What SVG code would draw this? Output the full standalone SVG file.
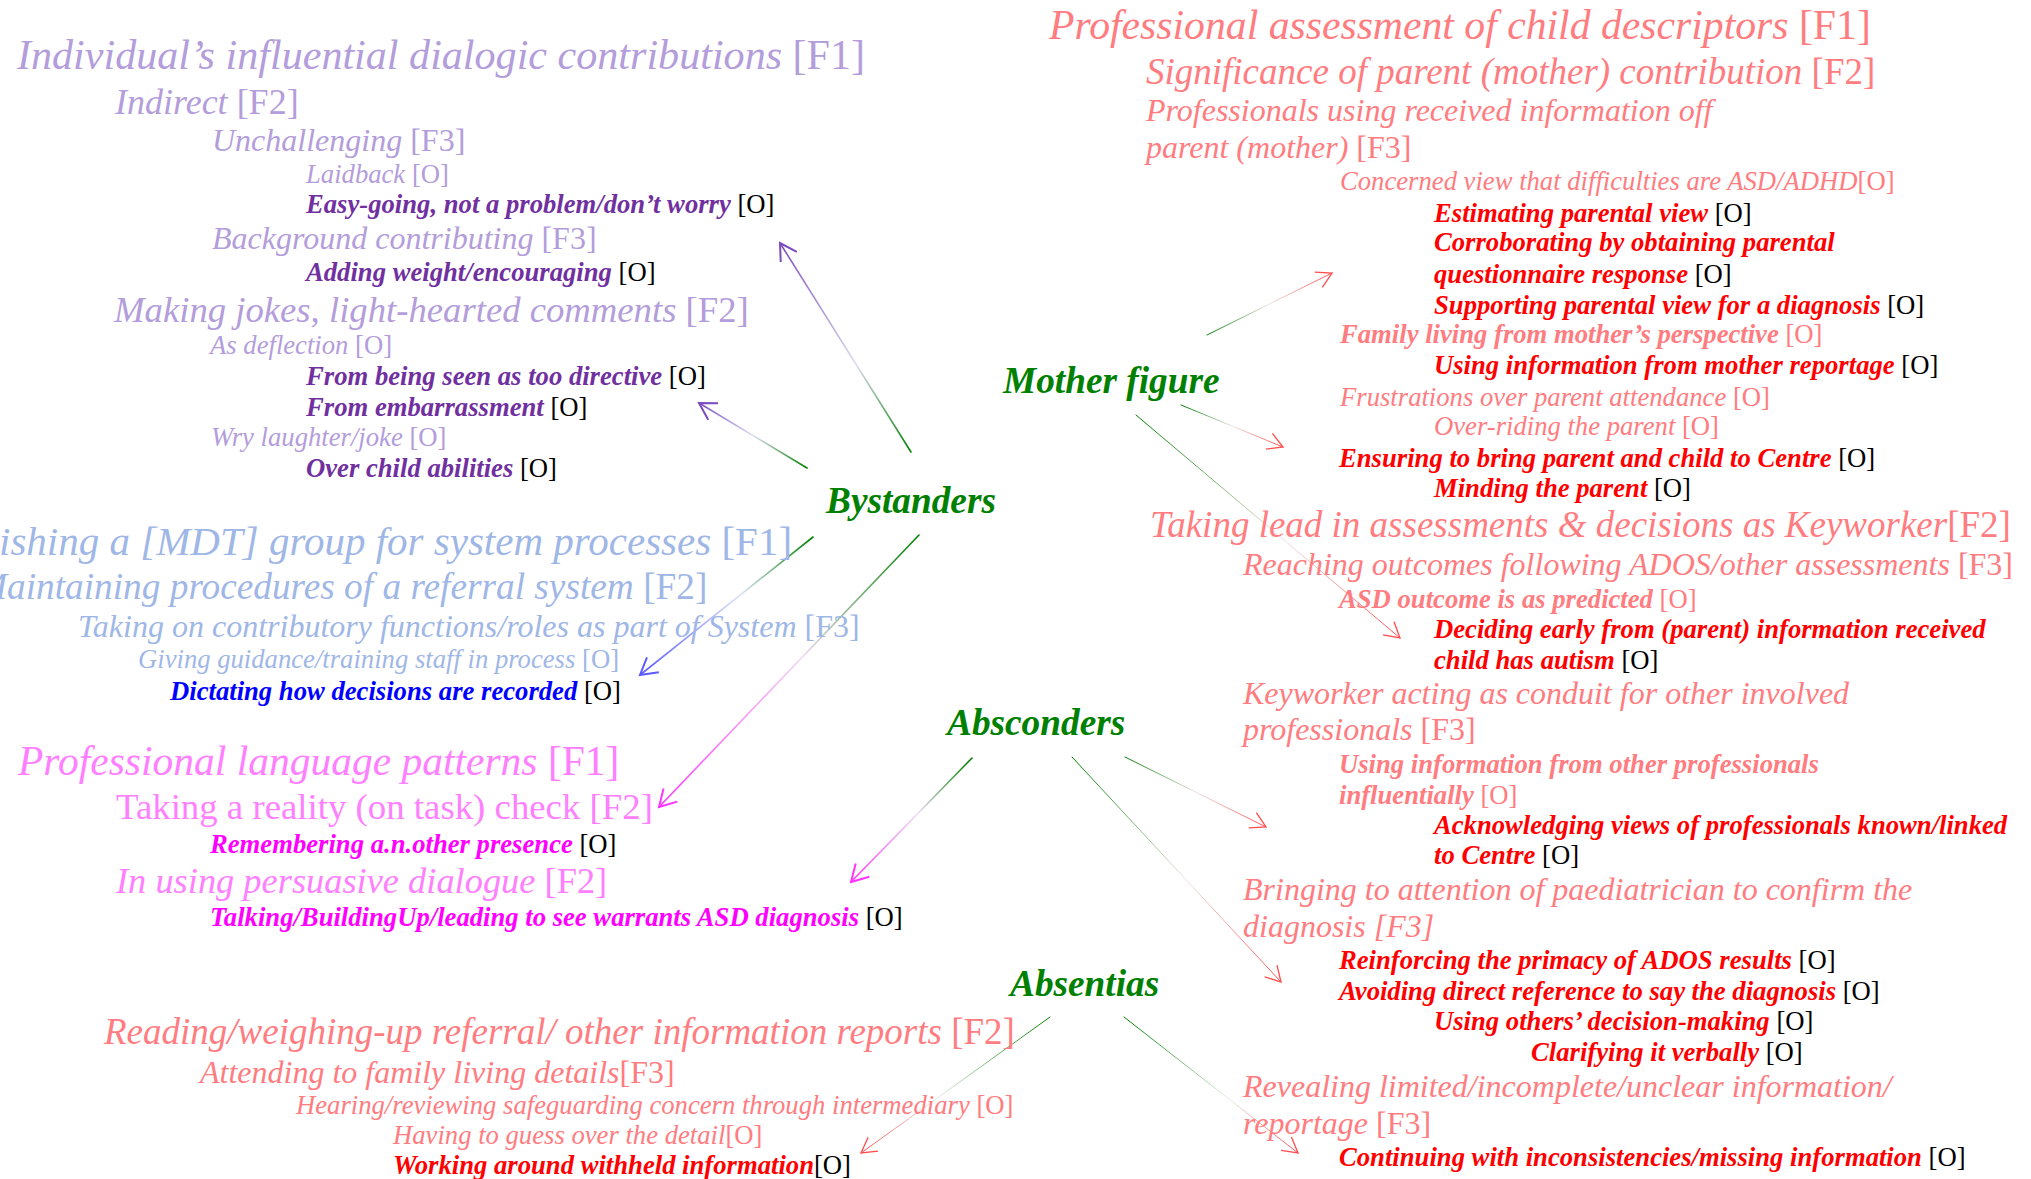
<svg xmlns="http://www.w3.org/2000/svg" width="2031" height="1179" viewBox="0 0 2031 1179">
<style>
text { font-family: "Liberation Serif", "Times New Roman", serif; font-style: italic; }
.f1 { font-size: 41.5px; }
.f2 { font-size: 37px; }
.f3 { font-size: 32px; }
.o { font-size: 26.67px; }
.b { font-weight: bold; }
.rm { font-style: normal; font-weight: normal; }
.k { fill: #000000; font-style: normal; font-weight: normal; }
.up { font-style: normal; }
.cat { font-size: 37.3px; font-weight: bold; fill: #008000; }
.pl { fill: #b39ddb; } .pd { fill: #7030a0; }
.bl { fill: #9fb7e6; } .bd { fill: #0000ff; }
.kl { fill: #ff80ff; } .kd { fill: #ff00ff; }
.sl { fill: #ff7c80; } .rd { fill: #ff0000; }
.c { fill: none; stroke-linecap: round; }
.thick { stroke-width: 1.6; }
.thin { stroke-width: 1; }
</style>
<defs>
<marker id="ah-purple" markerUnits="userSpaceOnUse" viewBox="-20 -20 40 40" markerWidth="40" markerHeight="40" refX="0" refY="0" orient="auto" overflow="visible"><path d="M-16.5,-9.5 L0,0 L-16.5,9.5" fill="none" stroke="#7b4bbd" stroke-width="2"/></marker>
<marker id="ah-blue" markerUnits="userSpaceOnUse" viewBox="-20 -20 40 40" markerWidth="40" markerHeight="40" refX="0" refY="0" orient="auto" overflow="visible"><path d="M-16.5,-9.5 L0,0 L-16.5,9.5" fill="none" stroke="#5a5aff" stroke-width="2"/></marker>
<marker id="ah-magenta" markerUnits="userSpaceOnUse" viewBox="-20 -20 40 40" markerWidth="40" markerHeight="40" refX="0" refY="0" orient="auto" overflow="visible"><path d="M-16.5,-9.5 L0,0 L-16.5,9.5" fill="none" stroke="#ff33ff" stroke-width="2"/></marker>
<marker id="ah-red" markerUnits="userSpaceOnUse" viewBox="-20 -20 40 40" markerWidth="40" markerHeight="40" refX="0" refY="0" orient="auto" overflow="visible"><path d="M-15,-8.5 L0,0 L-15,8.5" fill="none" stroke="#ff4d4d" stroke-width="1.3"/></marker>
<linearGradient id="g1" gradientUnits="userSpaceOnUse" x1="911" y1="452" x2="780" y2="243"><stop offset="0" stop-color="#008000"/><stop offset="0.42" stop-color="#dcdcf0"/><stop offset="1" stop-color="#7b4bbd"/></linearGradient>
<linearGradient id="g2" gradientUnits="userSpaceOnUse" x1="807" y1="468" x2="699" y2="403"><stop offset="0" stop-color="#008000"/><stop offset="0.5" stop-color="#dcdcf0"/><stop offset="1" stop-color="#7b4bbd"/></linearGradient>
<linearGradient id="g3" gradientUnits="userSpaceOnUse" x1="813" y1="537" x2="640" y2="675"><stop offset="0" stop-color="#008000"/><stop offset="0.42" stop-color="#dde3f5"/><stop offset="1" stop-color="#5a5aff"/></linearGradient>
<linearGradient id="g4" gradientUnits="userSpaceOnUse" x1="919" y1="535" x2="659" y2="807"><stop offset="0" stop-color="#008000"/><stop offset="0.45" stop-color="#f0dcf0"/><stop offset="1" stop-color="#ff33ff"/></linearGradient>
<linearGradient id="g5" gradientUnits="userSpaceOnUse" x1="972" y1="758" x2="851" y2="882"><stop offset="0" stop-color="#008000"/><stop offset="0.45" stop-color="#f0dcf0"/><stop offset="1" stop-color="#ff33ff"/></linearGradient>
<linearGradient id="g6" gradientUnits="userSpaceOnUse" x1="1125" y1="757" x2="1266" y2="827"><stop offset="0" stop-color="#008000"/><stop offset="0.5" stop-color="#f0e4e4"/><stop offset="1" stop-color="#ff4d4d"/></linearGradient>
<linearGradient id="g7" gradientUnits="userSpaceOnUse" x1="1072" y1="757" x2="1281" y2="982"><stop offset="0" stop-color="#008000"/><stop offset="0.55" stop-color="#f0e4e4"/><stop offset="1" stop-color="#ff4d4d"/></linearGradient>
<linearGradient id="g8" gradientUnits="userSpaceOnUse" x1="1207" y1="335" x2="1332" y2="273"><stop offset="0" stop-color="#008000"/><stop offset="0.5" stop-color="#f0e4e4"/><stop offset="1" stop-color="#ff4d4d"/></linearGradient>
<linearGradient id="g9" gradientUnits="userSpaceOnUse" x1="1181" y1="405" x2="1283" y2="447"><stop offset="0" stop-color="#008000"/><stop offset="0.5" stop-color="#f0e4e4"/><stop offset="1" stop-color="#ff4d4d"/></linearGradient>
<linearGradient id="g10" gradientUnits="userSpaceOnUse" x1="1136" y1="415" x2="1400" y2="638"><stop offset="0" stop-color="#008000"/><stop offset="0.55" stop-color="#f0e4e4"/><stop offset="1" stop-color="#ff4d4d"/></linearGradient>
<linearGradient id="g11" gradientUnits="userSpaceOnUse" x1="1050" y1="1017" x2="861" y2="1153"><stop offset="0" stop-color="#008000"/><stop offset="0.6" stop-color="#e6eee6"/><stop offset="1" stop-color="#ff4d4d"/></linearGradient>
<linearGradient id="g12" gradientUnits="userSpaceOnUse" x1="1124" y1="1017" x2="1298" y2="1153"><stop offset="0" stop-color="#008000"/><stop offset="0.6" stop-color="#e6eee6"/><stop offset="1" stop-color="#ff4d4d"/></linearGradient>
</defs>
<rect x="0" y="0" width="2031" height="1179" fill="#ffffff"/>

<g id="connectors">
<line class="c thick" x1="911" y1="452" x2="780" y2="243" stroke="url(#g1)" marker-end="url(#ah-purple)"/>
<line class="c thick" x1="807" y1="468" x2="699" y2="403" stroke="url(#g2)" marker-end="url(#ah-purple)"/>
<line class="c thick" x1="813" y1="537" x2="640" y2="675" stroke="url(#g3)" marker-end="url(#ah-blue)"/>
<line class="c thick" x1="919" y1="535" x2="659" y2="807" stroke="url(#g4)" marker-end="url(#ah-magenta)"/>
<line class="c thick" x1="972" y1="758" x2="851" y2="882" stroke="url(#g5)" marker-end="url(#ah-magenta)"/>
<line class="c thin" x1="1125" y1="757" x2="1266" y2="827" stroke="url(#g6)" marker-end="url(#ah-red)"/>
<line class="c thin" x1="1072" y1="757" x2="1281" y2="982" stroke="url(#g7)" marker-end="url(#ah-red)"/>
<line class="c thin" x1="1207" y1="335" x2="1332" y2="273" stroke="url(#g8)" marker-end="url(#ah-red)"/>
<line class="c thin" x1="1181" y1="405" x2="1283" y2="447" stroke="url(#g9)" marker-end="url(#ah-red)"/>
<line class="c thin" x1="1136" y1="415" x2="1400" y2="638" stroke="url(#g10)" marker-end="url(#ah-red)"/>
<line class="c thin" x1="1050" y1="1017" x2="861" y2="1153" stroke="url(#g11)" marker-end="url(#ah-red)"/>
<line class="c thin" x1="1124" y1="1017" x2="1298" y2="1153" stroke="url(#g12)" marker-end="url(#ah-red)"/>
</g>

<g id="bystanders"><text class="cat" x="826" y="513">Bystanders</text></g>
<g id="mother-figure"><text class="cat" x="1003" y="393">Mother figure</text></g>
<g id="absconders"><text class="cat" x="947" y="735">Absconders</text></g>
<g id="absentias"><text class="cat" x="1010" y="996">Absentias</text></g>

<g id="dialogic-contributions">
<text class="pl" style="font-size:42.1px" x="17" y="69">Individual’s influential dialogic contributions <tspan class="rm">[F1]</tspan></text>
<text class="pl" style="font-size:36px" x="115" y="114">Indirect <tspan class="rm">[F2]</tspan></text>
<text class="f3 pl" x="212" y="151">Unchallenging <tspan class="rm">[F3]</tspan></text>
<text class="o pl" x="306" y="183">Laidback <tspan class="rm">[O]</tspan></text>
<text class="o pd b" x="306" y="213">Easy-going, not a problem/don’t worry <tspan class="k">[O]</tspan></text>
<text class="f3 pl" x="212" y="249">Background contributing <tspan class="rm">[F3]</tspan></text>
<text class="o pd b" x="306" y="281">Adding weight/encouraging <tspan class="k">[O]</tspan></text>
<text class="pl" style="font-size:36.7px" x="114" y="322">Making jokes, light-hearted comments <tspan class="rm">[F2]</tspan></text>
<text class="o pl" x="210" y="354">As deflection <tspan class="rm">[O]</tspan></text>
<text class="o pd b" x="306" y="385">From being seen as too directive <tspan class="k">[O]</tspan></text>
<text class="o pd b" x="306" y="416">From embarrassment <tspan class="k">[O]</tspan></text>
<text class="o pl" x="211" y="446">Wry laughter/joke <tspan class="rm">[O]</tspan></text>
<text class="o pd b" x="306" y="477">Over child abilities <tspan class="k">[O]</tspan></text>
</g>

<g id="mdt-group">
<text class="bl" style="font-size:41px" x="-1" y="555">ishing a [MDT] group for system processes <tspan class="rm">[F1]</tspan></text>
<text class="bl" style="font-size:37.3px" x="-24" y="599">Maintaining procedures of a referral system <tspan class="rm">[F2]</tspan></text>
<text class="f3 bl" x="78" y="637">Taking on contributory functions/roles as part of System <tspan class="rm">[F3]</tspan></text>
<text class="o bl" x="138" y="668">Giving guidance/training staff in process <tspan class="rm">[O]</tspan></text>
<text class="o bd b" x="170" y="700">Dictating how decisions are recorded <tspan class="k">[O]</tspan></text>
</g>

<g id="language-patterns">
<text class="f1 kl" x="18" y="775">Professional language patterns <tspan class="rm">[F1]</tspan></text>
<text class="kl up" style="font-size:36.8px" x="116" y="819">Taking a reality (on task) check [F2]</text>
<text class="o kd b" x="210" y="853">Remembering a.n.other presence <tspan class="k">[O]</tspan></text>
<text class="kl" style="font-size:36.4px" x="116" y="893">In using persuasive dialogue <tspan class="rm">[F2]</tspan></text>
<text class="o kd b" x="210" y="926">Talking/BuildingUp/leading to see warrants ASD diagnosis <tspan class="k">[O]</tspan></text>
</g>

<g id="reading-reports">
<text class="f2 sl" x="104" y="1044">Reading/weighing-up referral/ other information reports <tspan class="rm">[F2]</tspan></text>
<text class="f3 sl" x="200" y="1083">Attending to family living details<tspan class="rm">[F3]</tspan></text>
<text class="o sl" x="296" y="1114">Hearing/reviewing safeguarding concern through intermediary <tspan class="rm">[O]</tspan></text>
<text class="o sl" x="393" y="1144">Having to guess over the detail<tspan class="rm">[O]</tspan></text>
<text class="o rd b" x="393" y="1174">Working around withheld information<tspan class="k">[O]</tspan></text>
</g>

<g id="child-descriptors">
<text class="sl" style="font-size:41.7px" x="1049" y="39">Professional assessment of child descriptors <tspan class="rm">[F1]</tspan></text>
<text class="f2 sl" x="1146" y="84">Significance of parent (mother) contribution <tspan class="rm">[F2]</tspan></text>
<text class="f3 sl" x="1146" y="121">Professionals using received information off</text>
<text class="f3 sl" x="1146" y="158">parent (mother) <tspan class="rm">[F3]</tspan></text>
<text class="o sl" x="1340" y="190">Concerned view that difficulties are ASD/ADHD<tspan class="rm">[O]</tspan></text>
<text class="o rd b" x="1434" y="222">Estimating parental view <tspan class="k">[O]</tspan></text>
<text class="o rd b" x="1434" y="251">Corroborating by obtaining parental</text>
<text class="o rd b" x="1434" y="283">questionnaire response <tspan class="k">[O]</tspan></text>
<text class="o rd b" x="1434" y="314">Supporting parental view for a diagnosis <tspan class="k">[O]</tspan></text>
<text class="o sl b" x="1340" y="343">Family living from mother’s perspective <tspan class="rm">[O]</tspan></text>
<text class="o rd b" x="1434" y="374">Using information from mother reportage <tspan class="k">[O]</tspan></text>
<text class="o sl" x="1340" y="406">Frustrations over parent attendance <tspan class="rm">[O]</tspan></text>
<text class="o sl" x="1434" y="435">Over-riding the parent <tspan class="rm">[O]</tspan></text>
<text class="o rd b" x="1339" y="467">Ensuring to bring parent and child to Centre <tspan class="k">[O]</tspan></text>
<text class="o rd b" x="1434" y="497">Minding the parent <tspan class="k">[O]</tspan></text>
</g>

<g id="keyworker-lead">
<text class="f2 sl" x="1150" y="537">Taking lead in assessments &amp; decisions as Keyworker<tspan class="rm">[F2]</tspan></text>
<text class="f3 sl" x="1243" y="575">Reaching outcomes following ADOS/other assessments <tspan class="rm">[F3]</tspan></text>
<text class="o sl b" x="1339" y="608">ASD outcome is as predicted <tspan class="rm">[O]</tspan></text>
<text class="o rd b" x="1434" y="638">Deciding early from (parent) information received</text>
<text class="o rd b" x="1434" y="669">child has autism <tspan class="k">[O]</tspan></text>
<text class="f3 sl" x="1243" y="704">Keyworker acting as conduit for other involved</text>
<text class="f3 sl" x="1243" y="740">professionals <tspan class="rm">[F3]</tspan></text>
<text class="o sl b" x="1339" y="773">Using information from other professionals</text>
<text class="o sl b" x="1339" y="804">influentially <tspan class="rm">[O]</tspan></text>
<text class="o rd b" x="1434" y="834">Acknowledging views of professionals known/linked</text>
<text class="o rd b" x="1434" y="864">to Centre <tspan class="k">[O]</tspan></text>
<text class="f3 sl" x="1243" y="900">Bringing to attention of paediatrician to confirm the</text>
<text class="f3 sl" x="1243" y="937">diagnosis [F3]</text>
<text class="o rd b" x="1339" y="969">Reinforcing the primacy of ADOS results <tspan class="k">[O]</tspan></text>
<text class="o rd b" x="1339" y="1000">Avoiding direct reference to say the diagnosis <tspan class="k">[O]</tspan></text>
<text class="o rd b" x="1434" y="1030">Using others’ decision-making <tspan class="k">[O]</tspan></text>
<text class="o rd b" x="1531" y="1061">Clarifying it verbally <tspan class="k">[O]</tspan></text>
<text class="f3 sl" x="1243" y="1097">Revealing limited/incomplete/unclear information/</text>
<text class="f3 sl" x="1243" y="1134">reportage <tspan class="rm">[F3]</tspan></text>
<text class="o rd b" x="1339" y="1166">Continuing with inconsistencies/missing information <tspan class="k">[O]</tspan></text>
</g>
</svg>
